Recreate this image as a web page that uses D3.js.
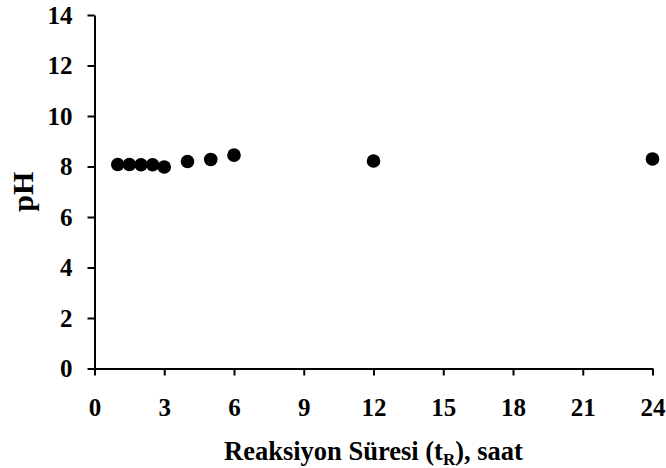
<!DOCTYPE html>
<html>
<head>
<meta charset="utf-8">
<script src="https://cdn.jsdelivr.net/npm/d3@7"></script>
</head>
<body style="margin:0;background:#fff">
<svg id="ph-plot" width="666" height="468"></svg>
<script>
// ── Data ─────────────────────────────────────────────────────────
const hours = [1, 1.5, 2, 2.5, 3, 4, 5, 6, 12, 24];
const phValues = [8.08, 8.08, 8.07, 8.07, 7.98, 8.2, 8.28, 8.45, 8.22, 8.3];
const xTicks = [0, 3, 6, 9, 12, 15, 18, 21, 24];
const yTicks = [0, 2, 4, 6, 8, 10, 12, 14];

const FONT = 'Liberation Serif, serif';
const w = 666, h = 468;
const margin = { top: 15, right: 13.5, bottom: 99.5, left: 94.5 };
const iw = w - margin.left - margin.right;
const ih = h - margin.top - margin.bottom;

const svg = d3.select('#ph-plot');

const g = svg.append('g')
  .attr('transform', `translate(${margin.left},${margin.top})`);

const x = d3.scaleLinear().domain([0, 24]).range([0, iw]);
const y = d3.scaleLinear().domain([0, 14]).range([ih, 0]);

// X axis
const xAxis = g.append('g')
  .attr('transform', `translate(0,${ih})`)
  .call(d3.axisBottom(x).tickValues(xTicks).tickSize(7).tickPadding(23).tickSizeOuter(0));

// Y axis
const yAxis = g.append('g')
  .call(d3.axisLeft(y).tickValues(yTicks).tickSize(7).tickPadding(15).tickSizeOuter(0));

[xAxis, yAxis].forEach(a => {
  a.attr('font-family', FONT).attr('font-size', 25).attr('font-weight', 'bold');
  a.selectAll('.domain, .tick line').attr('stroke', '#000').attr('stroke-width', 2);
  a.selectAll('text').attr('fill', '#000');
});

// Points
g.selectAll('circle')
  .data(hours)
  .enter()
  .append('circle')
  .attr('cx', d => x(d))
  .attr('cy', (d, i) => y(phValues[i]))
  .attr('r', 6.8)
  .attr('fill', '#000');

// Axis titles
const xTitle = svg.append('text')
  .attr('x', margin.left + iw / 2)
  .attr('y', 460)
  .attr('text-anchor', 'middle')
  .attr('fill', '#000')
  .attr('font-family', FONT)
  .attr('font-weight', 'bold')
  .attr('font-size', 26.5);
xTitle.append('tspan').text('Reaksiyon Süresi (t');
xTitle.append('tspan').attr('font-size', 17).attr('dy', 5).text('R');
xTitle.append('tspan').attr('dy', -5).text('), saat');

svg.append('text')
  .attr('transform', `translate(33,${margin.top + ih / 2}) rotate(-90)`)
  .attr('text-anchor', 'middle')
  .attr('fill', '#000')
  .attr('font-family', FONT)
  .attr('font-weight', 'bold')
  .attr('font-size', 30)
  .text('pH');
</script>
</body>
</html>
